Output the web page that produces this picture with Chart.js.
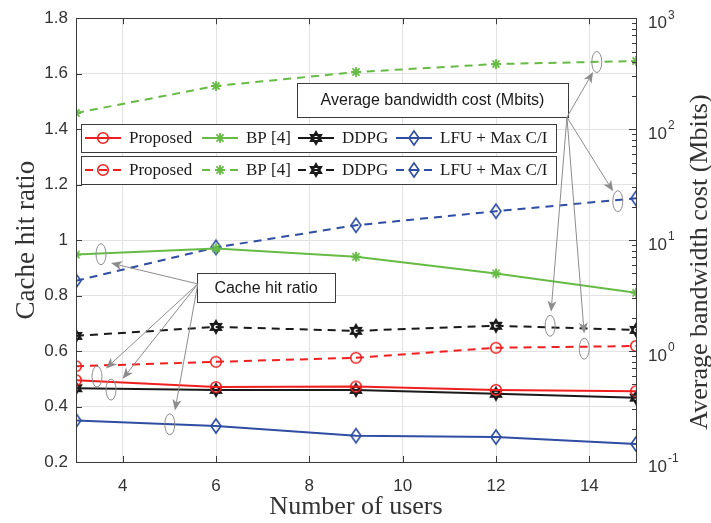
<!DOCTYPE html>
<html>
<head>
<meta charset="utf-8">
<script src="https://cdn.jsdelivr.net/npm/chart.js@4.4.1/dist/chart.umd.min.js"></script>
<style>
  body { margin: 0; background: #fff; }
  canvas { display: block; }
</style>
</head>
<body>
<canvas id="cacheChart" width="711" height="523"></canvas>
<script>
// ===== data =====
const users = [3, 6, 9, 12, 15];
const methods = ["Proposed", "BP [4]", "DDPG", "LFU + Max C/I"];

// cache hit ratio (left axis, solid lines)
const hitProposed = [0.495, 0.47, 0.472, 0.46, 0.455];
const hitBP = [0.948, 0.97, 0.94, 0.88, 0.81];
const hitDDPG = [0.466, 0.46, 0.46, 0.446, 0.432];
const hitLFU = [0.35, 0.33, 0.295, 0.29, 0.265];

// average bandwidth cost, Mbits (right axis, log, dashed lines)
const bwProposed = [0.73, 0.8, 0.87, 1.07, 1.11];
const bwBP = [140, 245, 327, 386, 411];
const bwDDPG = [1.37, 1.65, 1.52, 1.69, 1.55];
const bwLFU = [4.3, 8.6, 13.6, 18.2, 23.8];

const xTicks = [4, 6, 8, 10, 12, 14];
const leftTicks = [0.2, 0.4, 0.6, 0.8, 1.0, 1.2, 1.4, 1.6, 1.8];
const rightTicks = [0.1, 1, 10, 100, 1000];
const rightExp = ["-1", "0", "1", "2", "3"];

// ===== look =====
const colors = ["#f01f1f", "#66bb44", "#1a1a1a", "#2e4da3"];
const kinds = ["circle", "asterisk", "hexagram", "diamond"];
const sans = "'Liberation Sans', Arial, sans-serif";
const serif = "'Liberation Serif', 'Times New Roman', serif";
const textColor = "#333";
const gridColor = "#e2e2e2";
const noteColor = "#8c8c8c";

function marker(kind, color) {
  const c = document.createElement("canvas");
  c.width = 16; c.height = 18;
  const g = c.getContext("2d");
  const cx = 8, cy = 9;
  g.strokeStyle = color;
  g.lineWidth = 1.6;
  g.beginPath();
  if (kind === "circle") {
    g.arc(cx, cy, 5.3, 0, Math.PI * 2);
  } else if (kind === "asterisk") {
    g.lineWidth = 1.8;
    for (let i = 0; i < 4; i++) {
      const a = i * Math.PI / 4;
      g.moveTo(cx + 5 * Math.cos(a), cy + 5 * Math.sin(a));
      g.lineTo(cx - 5 * Math.cos(a), cy - 5 * Math.sin(a));
    }
  } else if (kind === "hexagram") {
    g.lineWidth = 1.9;
    for (let t = 0; t < 2; t++) {
      for (let k = 0; k < 3; k++) {
        const a = -Math.PI / 2 + t * Math.PI + k * 2 * Math.PI / 3;
        const px = cx + 6 * Math.cos(a), py = cy + 6 * Math.sin(a);
        if (k) g.lineTo(px, py); else g.moveTo(px, py);
      }
      g.closePath();
    }
  } else {
    g.moveTo(cx, cy - 7); g.lineTo(cx + 5, cy); g.lineTo(cx, cy + 7); g.lineTo(cx - 5, cy);
    g.closePath();
  }
  g.stroke();
  return c;
}

const markers = kinds.map((k, i) => marker(k, colors[i]));
const hitSeries = [hitProposed, hitBP, hitDDPG, hitLFU];
const bwSeries = [bwProposed, bwBP, bwDDPG, bwLFU];
const points = vals => users.map((u, i) => ({ x: u, y: vals[i] }));

const datasets = [];
methods.forEach((m, i) => {
  datasets.push({
    label: m, data: points(hitSeries[i]), yAxisID: "y",
    borderColor: colors[i], borderWidth: 2, pointStyle: markers[i], clip: 0
  });
  datasets.push({
    label: m, data: points(bwSeries[i]), yAxisID: "y2",
    borderColor: colors[i], borderWidth: 2, borderDash: [8, 6], pointStyle: markers[i], clip: 0
  });
});

// ===== annotation boxes, ellipses and arrows (positions in data units) =====
const bwNote = { text: "Average bandwidth cost (Mbits)", x0: 7.74, x1: 13.54, y0: 260, y1: 128 };
const bwStart = [13.52, 128];
const bwTips = [[14.08, 328], [14.51, 27.5], [13.18, 2.26], [13.89, 1.44]];
const bwRings = [[14.16, 403], [14.61, 22.4], [13.16, 1.69], [13.89, 1.05]];

const hitNote = { text: "Cache hit ratio", x0: 5.59, x1: 8.55, y0: 0.88, y1: 0.776 };
const hitStart = [5.61, 0.842];
const hitTips = [[3.75, 0.917], [3.64, 0.537], [4.0, 0.50], [5.12, 0.386]];
const hitRings = [[3.536, 0.949], [3.45, 0.508], [3.75, 0.461], [5.01, 0.336]];

function arrow(ctx, x0, y0, x1, y1) {
  const a = Math.atan2(y1 - y0, x1 - x0);
  const len = 11, half = 4.5, notch = 3;
  ctx.beginPath();
  ctx.moveTo(x0, y0);
  ctx.lineTo(x1 - (len - notch) * Math.cos(a), y1 - (len - notch) * Math.sin(a));
  ctx.stroke();
  const bx = x1 - len * Math.cos(a), by = y1 - len * Math.sin(a);
  ctx.beginPath();
  ctx.moveTo(x1, y1);
  ctx.lineTo(bx - half * Math.sin(a), by + half * Math.cos(a));
  ctx.lineTo(x1 - (len - notch) * Math.cos(a), y1 - (len - notch) * Math.sin(a));
  ctx.lineTo(bx + half * Math.sin(a), by - half * Math.cos(a));
  ctx.closePath();
  ctx.fill();
}

const decorations = {
  id: "decorations",
  afterDatasetsDraw(chart) {
    const { ctx, chartArea: ca, scales } = chart;
    const X = v => scales.x.getPixelForValue(v);
    const L = v => scales.y.getPixelForValue(v);
    const R = v => scales.y2.getPixelForValue(v);
    ctx.save();

    // axis box
    ctx.strokeStyle = "#3a3a3a";
    ctx.lineWidth = 1;
    ctx.strokeRect(Math.round(ca.left) + 0.5, Math.round(ca.top) + 0.5,
      Math.round(ca.right - ca.left), Math.round(ca.bottom - ca.top));

    // inward ticks
    ctx.beginPath();
    xTicks.forEach(v => {
      const x = Math.round(X(v)) + 0.5;
      ctx.moveTo(x, ca.bottom); ctx.lineTo(x, ca.bottom - 6);
      ctx.moveTo(x, ca.top); ctx.lineTo(x, ca.top + 6);
    });
    leftTicks.forEach(v => {
      const y = Math.round(L(v)) + 0.5;
      ctx.moveTo(ca.left, y); ctx.lineTo(ca.left + 6, y);
    });
    for (let d = -1; d <= 2; d++) {
      for (let k = 1; k <= 9; k++) {
        const y = Math.round(R(k * Math.pow(10, d))) + 0.5;
        ctx.moveTo(ca.right, y); ctx.lineTo(ca.right - (k === 1 ? 7 : 4), y);
      }
    }
    ctx.stroke();

    // right tick labels 10^n
    ctx.fillStyle = textColor;
    ctx.textBaseline = "middle";
    ctx.textAlign = "left";
    rightTicks.forEach((v, i) => {
      const y = R(v);
      ctx.font = "17px " + sans;
      ctx.fillText("10", ca.right + 12, y + 5);
      const w = ctx.measureText("10").width;
      ctx.font = "12px " + sans;
      ctx.fillText(rightExp[i], ca.right + 12 + w + 1, y - 3);
    });

    // right axis title (reads bottom to top)
    ctx.save();
    ctx.translate(700, 262);
    ctx.rotate(-Math.PI / 2);
    ctx.textAlign = "center";
    ctx.font = "26px " + serif;
    ctx.fillText("Average bandwidth cost (Mbits)", 0, 0);
    ctx.restore();

    // legends (solid row, dashed row)
    [[], [8, 6]].forEach((dash, row) => {
      const top = 124 + row * 32;
      ctx.fillStyle = "#fff";
      ctx.fillRect(81, top, 475, 28);
      ctx.strokeStyle = "#3a3a3a";
      ctx.lineWidth = 1;
      ctx.setLineDash([]);
      ctx.strokeRect(81.5, top + 0.5, 475, 28);
      const starts = [85, 202, 298, 396];
      const cy = top + 14;
      methods.forEach((m, i) => {
        const sx = starts[i];
        ctx.strokeStyle = colors[i];
        ctx.lineWidth = 2;
        ctx.setLineDash(dash);
        ctx.beginPath();
        ctx.moveTo(sx, cy); ctx.lineTo(sx + 36, cy);
        ctx.stroke();
        ctx.setLineDash([]);
        ctx.drawImage(markers[i], sx + 18 - 8, cy - 9);
        ctx.fillStyle = "#1a1a1a";
        ctx.font = "17px " + serif;
        ctx.textAlign = "left";
        ctx.textBaseline = "middle";
        ctx.fillText(m, sx + 44, cy + 1);
      });
    });

    // annotation text boxes
    [[bwNote, R], [hitNote, L]].forEach(([n, Y]) => {
      const x0 = Math.round(X(n.x0)), x1 = Math.round(X(n.x1));
      const y0 = Math.round(Y(n.y0)), y1 = Math.round(Y(n.y1));
      ctx.fillStyle = "#fff";
      ctx.fillRect(x0, y0, x1 - x0, y1 - y0);
      ctx.strokeStyle = "#3a3a3a";
      ctx.lineWidth = 1;
      ctx.strokeRect(x0 + 0.5, y0 + 0.5, x1 - x0, y1 - y0);
      ctx.fillStyle = "#1a1a1a";
      ctx.font = "16px " + sans;
      ctx.textAlign = "center";
      ctx.textBaseline = "middle";
      ctx.fillText(n.text, (x0 + x1) / 2, (y0 + y1) / 2 + 1);
    });

    // arrows and ellipses
    ctx.strokeStyle = noteColor;
    ctx.fillStyle = noteColor;
    ctx.lineWidth = 1;
    [[bwStart, bwTips, bwRings, R], [hitStart, hitTips, hitRings, L]].forEach(([s, tips, rings, Y]) => {
      tips.forEach(t => arrow(ctx, X(s[0]), Y(s[1]), X(t[0]), Y(t[1])));
      rings.forEach(r => {
        ctx.beginPath();
        ctx.ellipse(X(r[0]), Y(r[1]), 5, 10.5, 0, 0, Math.PI * 2);
        ctx.stroke();
      });
    });
    ctx.restore();
  }
};

new Chart(document.getElementById("cacheChart"), {
  type: "line",
  data: { datasets },
  plugins: [decorations],
  options: {
    responsive: false,
    animation: false,
    layout: { padding: { top: 16, left: 0, right: 0, bottom: 0 } },
    plugins: { legend: { display: false }, tooltip: { enabled: false } },
    elements: { line: { tension: 0 }, point: { radius: 6 } },
    scales: {
      x: {
        type: "linear", min: 3, max: 15,
        afterBuildTicks: s => { s.ticks = xTicks.map(v => ({ value: v })); },
        afterFit: s => { s.height = 61; },
        grid: { color: gridColor, drawTicks: false },
        border: { display: false },
        ticks: { padding: 14, color: textColor, font: { family: sans, size: 17 } },
        title: {
          display: true, text: "Number of users", color: textColor,
          font: { family: serif, size: 26 }, padding: { top: 0, bottom: 0 }
        }
      },
      y: {
        position: "left", min: 0.2, max: 1.8,
        afterBuildTicks: s => { s.ticks = leftTicks.map(v => ({ value: v })); },
        afterFit: s => { s.width = 76; },
        grid: { color: gridColor, drawTicks: false },
        border: { display: false },
        ticks: {
          padding: 8, color: textColor, font: { family: sans, size: 17 },
          callback: v => String(Number(v.toFixed(1)))
        },
        title: {
          display: true, text: "Cache hit ratio", color: textColor,
          font: { family: serif, size: 27 }, padding: { top: 11, bottom: 0 }
        }
      },
      y2: {
        type: "logarithmic", position: "right", min: 0.1, max: 1000,
        afterFit: s => { s.width = 75; },
        grid: { display: false },
        border: { display: false },
        ticks: { display: false }
      }
    }
  }
});
</script>
</body>
</html>
